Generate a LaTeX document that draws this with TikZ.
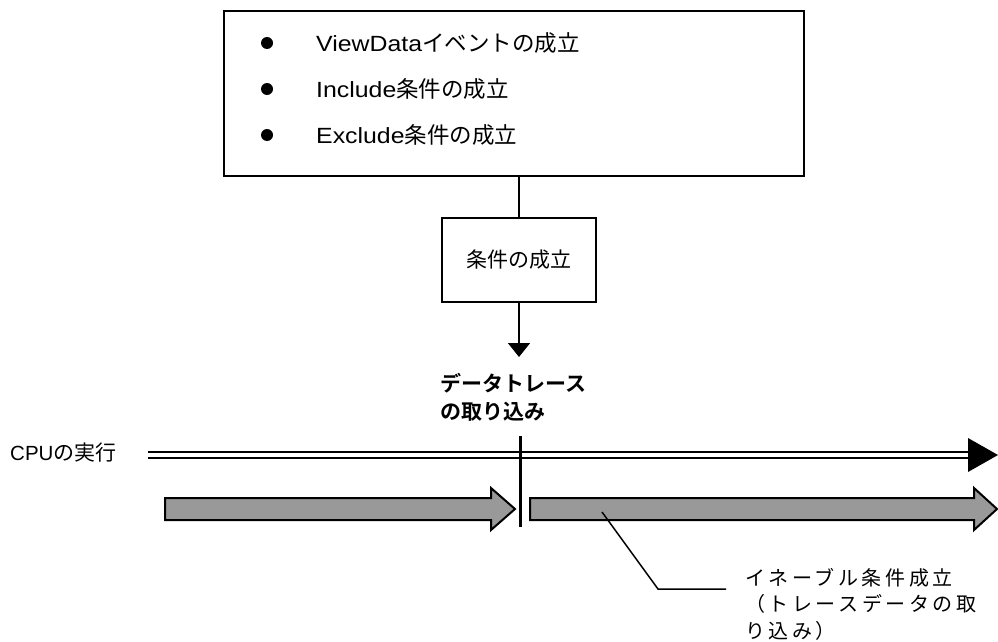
\documentclass[tikz,border=0pt]{standalone}
\usepackage{fontspec}
\setmainfont{Liberation Sans}
\newfontfamily\jp{Noto Sans CJK JP}[BoldFont={Noto Sans CJK JP Bold}]
\newfontfamily\jpwide{Noto Sans CJK JP}[LetterSpace=18]
\newfontfamily\latwide{Liberation Sans}[FakeStretch=1.13]
\usepackage{tikz}
\usetikzlibrary{arrows.meta, positioning}
\definecolor{flowgray}{HTML}{999999}

\tikzset{
  frame/.style={draw, line width=2pt, fill=white, inner sep=0pt},
  dot/.style={circle, fill, inner sep=0pt, minimum size=12pt},
  item/.style={anchor=west, inner sep=0pt},
  flow/.style={draw, line width=2pt, fill=flowgray, line join=miter}
}

\begin{document}
\begin{tikzpicture}[x=1pt, y=-1pt]
  \useasboundingbox (0,0) rectangle (998,642);
  \node[frame, minimum width=580pt, minimum height=165pt] (events) at (514,93.5) {};
  \node[dot] (b1) at (267,43) {};
  \node[dot] (b2) at (267,89) {};
  \node[dot] (b3) at (267,135) {};
  \node[item] (viewdata) at (316,43) {\fontsize{22}{26}\latwide ViewData\fontsize{22.5}{26}\jp イベントの成立};
  \node[item] (include) at (316,89) {\fontsize{22}{26}\latwide Include\fontsize{22.5}{26}\jp 条件の成立};
  \node[item] (exclude) at (316,135) {\fontsize{22}{26}\latwide Exclude\fontsize{22.5}{26}\jp 条件の成立};

  \node[frame, minimum width=154pt, minimum height=84pt, font=\fontsize{21}{26}\jp] (cond) at (519,260) {条件の成立};
  \coordinate (tip) at (519,357);
  \node[anchor=north west, inner sep=0pt, align=left, font=\fontsize{21}{28}\jp\bfseries] (capture) at (440,373) {データトレース\\の取り込み};

  \draw[line width=2pt] (cond.north) -- (cond.north |- events.south);
  \draw[-{Triangle[length=14pt, width=22pt]}, line width=1.5pt] (cond.south) -- (tip);

  \node[item] (cpu) at (10,453) {\fontsize{20.5}{26}\selectfont CPU\fontsize{21}{26}\jp の実行};
  \coordinate (runstart) at (148,455);
  \coordinate (runend) at (970,455);
  \draw[line width=2pt, double, double distance=3.4pt] (runstart) -- (runend);
  \fill (968,438) -- (998,455) -- (968,472) -- cycle;

  \draw[flow] (165,498) -- (491,498) -- (491,488) -- (515,509) -- (491,530) -- (491,520) -- (165,520) -- cycle;
  \draw[flow] (530,498) -- (974,498) -- (974,488) -- (997,509) -- (974,530) -- (974,520) -- (530,520) -- cycle;
  \draw[line width=3pt] (520,436) -- (520,527);

  \coordinate (tap) at (602,512);
  \node[anchor=north west, inner sep=0pt, align=left, font=\fontsize{20}{26.5}\jpwide] (enable) at (745,568) {イネーブル条件成立\\（トレースデータの取\\り込み）};
  \draw[line width=1.5pt] (tap) -- (658,589) -- (726,589);
\end{tikzpicture}
\end{document}
